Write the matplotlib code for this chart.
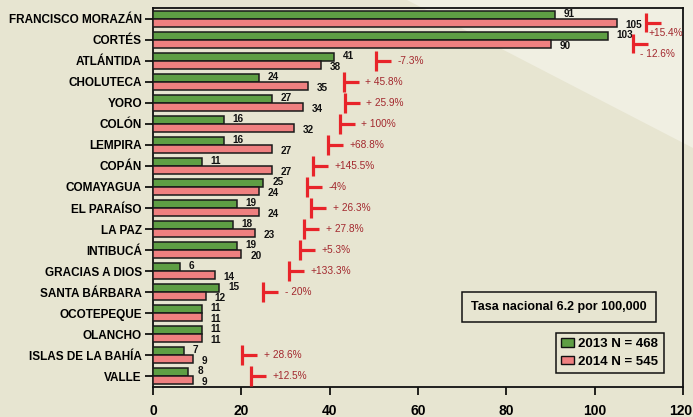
import matplotlib
matplotlib.use('Agg')
import matplotlib.pyplot as plt
from matplotlib.patches import Polygon, Patch
from matplotlib.transforms import ScaledTranslation
import numpy as np

departments = ["FRANCISCO MORAZÁN", "CORTÉS", "ATLÁNTIDA", "CHOLUTECA", "YORO",
               "COLÓN", "LEMPIRA", "COPÁN", "COMAYAGUA", "EL PARAÍSO", "LA PAZ",
               "INTIBUCÁ", "GRACIAS A DIOS", "SANTA BÁRBARA", "OCOTEPEQUE",
               "OLANCHO", "ISLAS DE LA BAHÍA", "VALLE"]
rate_2013 = [91, 103, 41, 24, 27, 16, 16, 11, 25, 19, 18, 19, 6, 15, 11, 11, 7, 8]
rate_2014 = [105, 90, 38, 35, 34, 32, 27, 27, 24, 24, 23, 20, 14, 12, 11, 11, 9, 9]
change_labels = ["+15.4%", "- 12.6%", "-7.3%", "+ 45.8%", "+ 25.9%", "+ 100%",
                 "+68.8%", "+145.5%", "-4%", "+ 26.3%", "+ 27.8%", "+5.3%",
                 "+133.3%", "- 20%", "", "", "+ 28.6%", "+12.5%"]
# annotation anchor positions (x in data units) for the change markers
change_x = [111.6, 108.7, 50.5, 43.2, 43.4, 42.3, 39.6, 36.2, 34.9, 35.8, 34.2,
            33.3, 30.8, 24.9, None, None, 20.2, 22.2]
legend_labels = ["2013 N = 468", "2014 N = 545"]
note_text = "Tasa nacional 6.2 por 100,000"
x_ticks = [0, 20, 40, 60, 80, 100, 120]

BG = '#E7E5D1'
GREEN = '#5E9E44'
PINK = '#EF8080'
MARK = '#E8242A'
PCT = '#A3282E'
FONT = 'Liberation Sans'

W, H = 693, 417
fig = plt.figure(figsize=(W / 100, H / 100), dpi=100, facecolor=BG)
fig.patches.append(Polygon([[407 / W, 1], [1, 1], [1, 1 - 148 / H]], closed=True,
                           transform=fig.transFigure, facecolor='#F0EFE2',
                           edgecolor='none', zorder=-10))

ax = fig.add_axes([153 / W, 30 / H, 530 / W, 379 / H])
ax.set_facecolor('none')
ax.set_zorder(2)

n = len(departments)
y = np.arange(n)
h = 0.38
off = 0.2
ax.barh(y - off, rate_2013, height=h, color=GREEN, edgecolor='#1a1a1a', linewidth=1.1, zorder=3)
ax.barh(y + off, rate_2014, height=h, color=PINK, edgecolor='#1a1a1a', linewidth=1.1, zorder=3)

for i in range(n):
    ax.text(rate_2013[i] + 2.0, y[i] - off - 0.05, str(rate_2013[i]), fontsize=7.2,
            fontweight='bold', family=FONT, va='center', ha='left', color='#111')
    ax.text(rate_2014[i] + 2.0, y[i] + off + 0.08, str(rate_2014[i]), fontsize=7.2,
            fontweight='bold', family=FONT, va='center', ha='left', color='#111')

for i in range(n):
    cx = change_x[i]
    if cx is None:
        continue
    yc = y[i] + (0.17 if i < 2 else 0.0)
    ax.plot([cx, cx], [yc - 0.47, yc + 0.47], color=MARK, lw=2.3, solid_capstyle='butt', zorder=4)
    ax.plot([cx, cx + 3.4], [yc + (0.02 if i < 2 else 0), yc + (0.02 if i < 2 else 0)],
            color=MARK, lw=2.3, solid_capstyle='butt', zorder=4)
    if i < 2:
        tx, ty = cx + (0.5 if i == 0 else 1.6), yc + 0.5
    else:
        tx, ty = cx + 4.9, yc
    ax.text(tx, ty, change_labels[i], fontsize=7.3, family=FONT, color=PCT,
            va='center', ha='left', zorder=5)

ax.set_ylim(n - 0.48, -0.52)
ax.set_xlim(0, 120)
ax.set_yticks(y)
ax.set_yticklabels(departments, fontsize=8.5, fontweight='bold', family=FONT)
ax.set_xticks(x_ticks)
ax.set_xticklabels([str(t) for t in x_ticks], fontsize=10, fontweight='bold', family=FONT)
ax.tick_params(axis='y', length=6, width=1.2, pad=2)
ax.tick_params(axis='x', length=6, width=1.2, pad=6)
last = ax.get_xticklabels()[-1]
last.set_transform(last.get_transform() + ScaledTranslation(-2 / 100, 0, fig.dpi_scale_trans))
for s in ax.spines.values():
    s.set_linewidth(1.3)
    s.set_color('#111')

handles = [Patch(facecolor=GREEN, edgecolor='#111', linewidth=1),
           Patch(facecolor=PINK, edgecolor='#111', linewidth=1)]
leg = ax.legend(handles, legend_labels, loc='upper left',
                bbox_to_anchor=(556 / W, 1 - 333 / H), bbox_transform=fig.transFigure,
                prop={'family': FONT, 'weight': 'bold', 'size': 9.5},
                frameon=True, fancybox=False, edgecolor='#111',
                facecolor=BG, framealpha=1, handlelength=1.0, handleheight=0.6,
                handletextpad=0.3, borderpad=0.4, labelspacing=0.4,
                borderaxespad=0)
leg.get_frame().set_linewidth(1.1)

ax.text(559 / W, 1 - 307 / H, note_text, fontsize=9, fontweight='bold', family=FONT,
        ha='center', va='center', transform=fig.transFigure,
        bbox=dict(boxstyle='square,pad=0.7', facecolor=BG, edgecolor='#111', linewidth=1.1))

fig.savefig('out.png', dpi=100, facecolor=BG)
